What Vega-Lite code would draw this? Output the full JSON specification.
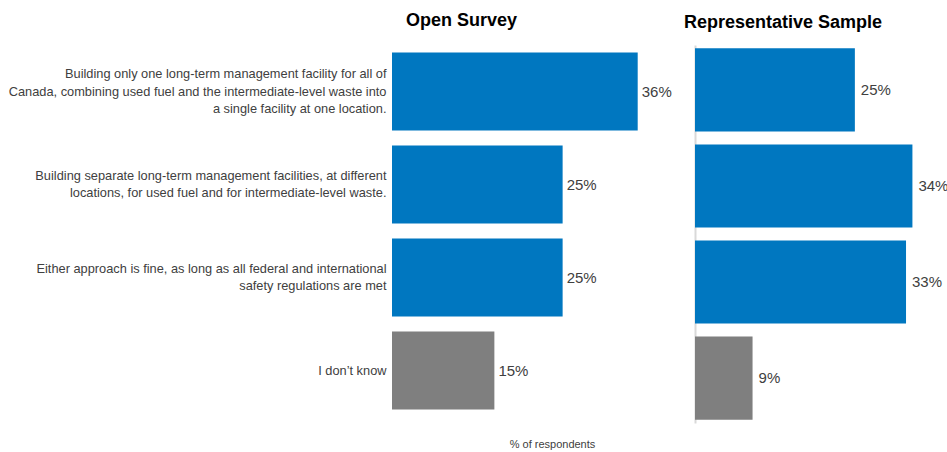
{
  "$schema": "https://vega.github.io/schema/vega-lite/v6.json",
  "background": "white",
  "padding": {"left": 8, "top": 12, "right": 0, "bottom": 2},
  "config": {"view": {"stroke": null}, "font": "Liberation Sans"},
  "data": {"values": [
    {"panel": "Open Survey", "category": "Building only one long-term management facility for all of|Canada, combining used fuel and the intermediate-level waste into|a single facility at one location.", "value": 0.36, "kind": "option"},
    {"panel": "Open Survey", "category": "Building separate long-term management facilities, at different|locations, for used fuel and for intermediate-level waste.", "value": 0.25, "kind": "option"},
    {"panel": "Open Survey", "category": "Either approach is fine, as long as all federal and international|safety regulations are met", "value": 0.25, "kind": "option"},
    {"panel": "Open Survey", "category": "I don’t know", "value": 0.15, "kind": "dontknow"},
    {"panel": "Representative Sample", "category": "Building only one long-term management facility for all of|Canada, combining used fuel and the intermediate-level waste into|a single facility at one location.", "value": 0.25, "kind": "option"},
    {"panel": "Representative Sample", "category": "Building separate long-term management facilities, at different|locations, for used fuel and for intermediate-level waste.", "value": 0.34, "kind": "option"},
    {"panel": "Representative Sample", "category": "Either approach is fine, as long as all federal and international|safety regulations are met", "value": 0.33, "kind": "option"},
    {"panel": "Representative Sample", "category": "I don’t know", "value": 0.09, "kind": "dontknow"}
  ]},
  "spacing": 12,
  "hconcat": [
    {
      "width": 273,
      "height": 372,
      "title": {"text": "Open Survey", "anchor": "start", "frame": "group", "dx": 14, "fontSize": 18, "fontWeight": "bold", "color": "black", "offset": 15},
      "transform": [{"filter": "datum.panel === 'Open Survey'"}],
      "encoding": {
        "y": {"field": "category", "type": "nominal", "sort": null,
          "scale": {"paddingInner": 0.16, "paddingOuter": 0.08},
          "axis": {"title": null, "ticks": false, "domain": false, "labelExpr": "split(datum.value, '|')", "labelFontSize": 12.8, "labelColor": "#404040", "labelLimit": 600, "labelPadding": 6, "labelLineHeight": 17.5,
            "labelOffset": {"condition": [{"test": "length(split(datum.value, '|')) == 3", "value": -17.5}, {"test": "length(split(datum.value, '|')) == 2", "value": -8.75}], "value": 0}}},
        "x": {"field": "value", "type": "quantitative", "scale": {"domain": [0, 0.4]},
          "axis": {"grid": false, "labels": false, "ticks": false, "domain": false, "title": "% of respondents", "titleFontSize": 11, "titleFontWeight": "normal", "titleColor": "#404040", "titlePadding": 21, "titleX": 160, "titleAnchor": null}}
      },
      "layer": [
        {"mark": {"type": "bar"}, "encoding": {"color": {"field": "kind", "type": "nominal", "scale": {"domain": ["option", "dontknow"], "range": ["#0077C0", "#7F7F7F"]}, "legend": null}}},
        {"mark": {"type": "text", "align": "left", "dx": 4, "fontSize": 15, "color": "#404040"}, "encoding": {"text": {"field": "value", "type": "quantitative", "format": ".0%"}}}
      ]
    },
    {
      "width": 243,
      "height": 378,
      "title": {"text": "Representative Sample", "anchor": "start", "frame": "group", "dx": -11, "fontSize": 18, "fontWeight": "bold", "color": "black", "offset": 13},
      "transform": [{"filter": "datum.panel === 'Representative Sample'"}],
      "encoding": {
        "y": {"field": "category", "type": "nominal", "sort": null,
          "scale": {"paddingInner": 0.135, "paddingOuter": 0.035},
          "axis": {"title": null, "ticks": false, "labels": false, "domain": true, "domainColor": "#d9d9d9", "domainWidth": 2}},
        "x": {"field": "value", "type": "quantitative", "scale": {"domain": [0, 0.38]},
          "axis": null}
      },
      "layer": [
        {"mark": {"type": "bar"}, "encoding": {"color": {"field": "kind", "type": "nominal", "scale": {"domain": ["option", "dontknow"], "range": ["#0077C0", "#7F7F7F"]}, "legend": null}}},
        {"mark": {"type": "text", "align": "left", "dx": 6, "fontSize": 15, "color": "#404040"}, "encoding": {"text": {"field": "value", "type": "quantitative", "format": ".0%"}}}
      ]
    }
  ]
}
